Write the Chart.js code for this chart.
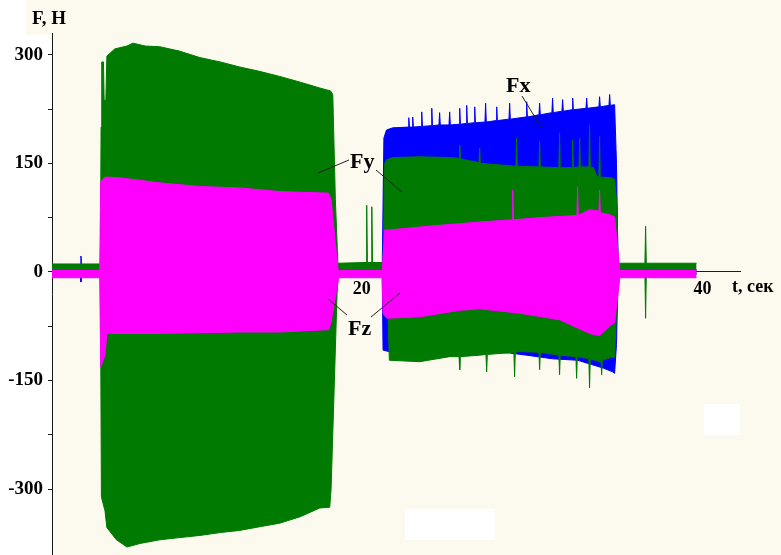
<!DOCTYPE html>
<html><head><meta charset="utf-8">
<script src="https://cdn.jsdelivr.net/npm/chart.js@4/dist/chart.umd.min.js"></script>
<style>html,body{margin:0;padding:0;background:#fff;}canvas{display:block;}</style>
</head><body>
<canvas id="c" width="781" height="555"></canvas>
<script>
// ---- axis ticks ----
const timeTicks = [6, 10, 14, 18, 20, 22, 26, 30, 34, 40];
const labeledTimes = [20, 40];
const forceTicks = [-300, -225, -150, -75, 0, 75, 150, 225, 300];
const labeledForces = [-300, -150, 0, 150, 300];

// ---- envelopes [t (s), F (N)] ----
const fxUpper = [[1.82,3],[3.48,3],[3.52,22],[3.56,3],[21.20,3],[21.30,185],[21.45,196],[21.82,199],
[22.72,200],[22.76,213],[22.80,200],[22.95,200],[22.99,214],[23.03,200],[23.48,201],[23.52,221],[23.56,201],
[24.07,202],[24.11,226],[24.15,202],[24.53,203],[24.57,220],[24.61,203],[25.12,203],[25.16,221],[25.20,203],
[25.71,204],[25.75,226],[25.79,204],[26.12,205],[26.16,230],[26.20,205],[26.59,206],[26.63,228],[26.67,206],
[27.23,207],[27.27,233],[27.31,207],[27.88,209],[27.92,228],[27.96,209],[28.64,211],[28.68,233],[28.72,211],
[29.64,214],[29.68,235],[29.72,214],[30.40,217],[30.44,233],[30.48,217],[31.16,220],[31.20,240],[31.24,220],
[31.75,222],[31.79,238],[31.83,222],[32.34,224],[32.38,240],[32.42,224],[33.16,226],[33.20,240],[33.24,226],
[33.92,228],[33.96,242],[34.00,228],[34.51,230],[34.55,245],[34.59,230],[34.84,231],[34.95,150],[35.05,3],[39.65,3]];
const fxLower = [[1.82,-3],[3.48,-3],[3.52,-14],[3.56,-3],[21.20,-3],[21.25,-108],[21.60,-110],[23.40,-112],
[26.00,-110],[28.68,-112],[29.68,-115],[31.20,-120],[32.67,-122],[33.50,-128],[34.20,-133],[34.72,-138],
[34.84,-140],[34.95,-100],[35.05,-3],[39.65,-3]];

const fyUpper = [[1.82,11],[4.66,11],[4.70,200],[4.74,290],[4.84,290],[4.88,237],[4.98,237],[5.04,298],
[5.50,308],[6.22,312],[6.57,316],[7.30,312],[8.15,311],[9.30,305],[10.50,296],[11.70,290],[12.84,283],
[14.00,277],[15.19,270],[16.40,262],[17.54,254],[18.17,250],[18.30,245],[18.45,100],[18.60,12],
[20.25,13],[20.29,92],[20.33,13],[20.55,13],[20.59,90],[20.63,13],[21.25,13],[21.35,150],[21.47,155],
[21.82,158],[23.40,159],[25.16,158],[25.71,157],[25.75,175],[25.79,156],[26.88,151],[26.92,171],[26.96,150],
[29.05,146],[29.09,185],[29.13,146],[30.40,145],[30.44,180],[30.48,145],[31.57,144],[31.61,192],[31.65,144],
[32.34,144],[32.38,182],[32.42,144],[32.75,145],[32.79,185],[32.83,145],[33.33,145],[33.37,203],[33.41,145],
[33.60,144],[33.80,132],[33.92,131],[33.96,187],[34.00,131],[34.66,130],[34.84,128],[34.95,100],[35.05,12],
[36.62,12],[36.66,63],[36.70,12],[39.65,12]];
const fyLower = [[1.82,-2],[4.66,-2],[4.72,-311],[4.93,-330],[5.04,-353],[5.60,-370],[6.22,-380],[7.00,-375],
[8.15,-370],[9.30,-367],[10.50,-364],[11.70,-360],[12.84,-357],[14.00,-352],[15.19,-347],[16.40,-338],
[17.54,-326],[18.12,-325],[18.20,-300],[18.55,-30],[18.62,-3],[21.25,-3],[21.30,-60],[21.55,-65],[21.62,-122],
[23.40,-124],[25.16,-117],[25.71,-117],[25.75,-135],[25.79,-117],[26.92,-115],[27.29,-114],[27.33,-138],
[27.37,-114],[28.93,-111],[28.97,-145],[29.01,-111],[29.27,-110],[30.40,-111],[30.44,-135],[30.48,-111],
[31.57,-115],[31.61,-142],[31.65,-115],[32.57,-117],[32.61,-147],[32.65,-117],[33.33,-120],[33.37,-160],
[33.41,-120],[33.96,-124],[34.04,-124],[34.08,-142],[34.12,-122],[34.66,-118],[34.84,-118],[35.05,-3],
[36.62,-3],[36.66,-64],[36.70,-3],[39.65,-3]];

const fzUpper = [[1.82,2],[4.62,2],[4.68,125],[4.93,131],[5.81,130],[8.15,123],[10.50,118],[12.84,116],
[15.19,111],[17.83,109],[18.05,109],[18.20,100],[18.45,40],[18.62,2],[21.20,2],[21.35,58],[21.64,58],
[23.40,62],[26.92,69],[28.82,72],[28.86,113],[28.90,72],[30.44,75],[32.63,78],[32.67,118],[32.71,78],
[33.37,86],[33.92,84],[33.96,113],[34.00,82],[34.55,79],[34.84,76],[35.15,2],[39.65,2]];
const fzLower = [[1.82,-8],[4.62,-8],[4.68,-131],[4.93,-115],[5.04,-85],[8.15,-85],[10.50,-84],[12.84,-83],
[15.19,-83],[17.83,-80],[18.05,-80],[18.20,-70],[18.65,-8],[21.20,-8],[21.25,-57],[21.47,-64],[23.40,-62],
[25.75,-53],[26.92,-51],[29.27,-57],[31.61,-66],[33.37,-85],[33.96,-88],[34.55,-75],[34.84,-70],[35.15,-8],
[39.65,-8]];

const BLUE = '#0000ff', GREEN = '#007a00', MAGENTA = '#ff00ff', CREAM = '#fcf9ee', AXIS = '#1a1a1a';
const SERIF = '"Liberation Serif", "Times New Roman", serif';

function env(data, color, order) {
  return { data: data.map(p => ({ x: p[0], y: p[1] })), borderColor: color, backgroundColor: color,
           borderWidth: 1, fill: 'origin', pointRadius: 0, tension: 0, order: order };
}

const decor = {
  id: 'decor',
  beforeDraw(chart) {
    const c = chart.ctx;
    c.save();
    c.fillStyle = CREAM; c.fillRect(0, 0, chart.width, chart.height);
    c.fillStyle = '#ffffff';
    c.fillRect(0, 35, 51, chart.height - 35);
    c.fillRect(0, 0, 26, 35);
    c.fillRect(704, 404, 36, 31);
    c.fillRect(405, 509, 90, 31);
    c.restore();
  },
  afterDraw(chart) {
    const c = chart.ctx;
    c.save();
    c.fillStyle = '#000';
    c.textBaseline = 'alphabetic';
    c.textAlign = 'left';
    c.font = 'bold 19px ' + SERIF;
    c.fillText('F, Н', 32, 24);
    c.font = 'bold 18px ' + SERIF;
    c.fillText('t, сек', 732, 292);
    c.font = 'bold 22px ' + SERIF;
    c.fillText('Fx', 506, 92);
    c.fillText('Fy', 350, 168);
    c.fillText('Fz', 348, 335);
    c.strokeStyle = '#222'; c.lineWidth = 1;
    const seg = (a, b, d, e) => { c.beginPath(); c.moveTo(a, b); c.lineTo(d, e); c.stroke(); };
    seg(522, 96, 541, 127);
    seg(349, 160, 318, 173);
    seg(376, 170, 402, 192);
    seg(328, 299, 347, 315);
    seg(371, 317, 400, 293);
    c.restore();
  }
};

function noPad(s) { s.paddingTop = 0; s.paddingBottom = 0; s.paddingLeft = 0; s.paddingRight = 0; }

new Chart(document.getElementById('c'), {
  type: 'line',
  data: { datasets: [
    env(fxUpper, BLUE, 6), env(fxLower, BLUE, 5),
    env(fyUpper, GREEN, 4), env(fyLower, GREEN, 3),
    env(fzUpper, MAGENTA, 2), env(fzLower, MAGENTA, 1)
  ] },
  options: {
    responsive: false, animation: false, events: [],
    layout: { padding: { top: 33, right: 41, left: 0, bottom: 0 } },
    plugins: { legend: { display: false }, tooltip: { enabled: false } },
    scales: {
      x: {
        type: 'linear', min: 1.82, max: 42.2, position: { y: 0 }, z: 1,
        border: { display: true, color: AXIS, width: 1 },
        grid: { drawOnChartArea: false, drawTicks: true, tickLength: 4,
                color: ctx => (ctx.tick && labeledTimes.includes(ctx.tick.value)) ? 'rgba(0,0,0,0)' : AXIS },
        ticks: { autoSkip: false, maxRotation: 0, padding: 3, color: '#000',
                 font: { family: SERIF, size: 18, weight: 'bold' },
                 callback: v => labeledTimes.includes(v) ? String(v) : '' },
        afterBuildTicks: s => { s.ticks = timeTicks.map(v => ({ value: v })); },
        afterFit: s => { noPad(s); }
      },
      y: {
        type: 'linear', min: -391, max: 330, position: 'left',
        border: { display: true, color: AXIS, width: 1 },
        grid: { drawOnChartArea: false, drawTicks: true, tickLength: 4, color: AXIS },
        ticks: { autoSkip: false, padding: 5, color: '#000',
                 font: { family: SERIF, size: 19, weight: 'bold' },
                 callback: v => labeledForces.includes(v) ? String(v) : '' },
        afterBuildTicks: s => { s.ticks = forceTicks.map(v => ({ value: v })); },
        afterFit: s => { s.width = 52; noPad(s); }
      }
    }
  },
  plugins: [decor]
});
</script>
</body></html>
